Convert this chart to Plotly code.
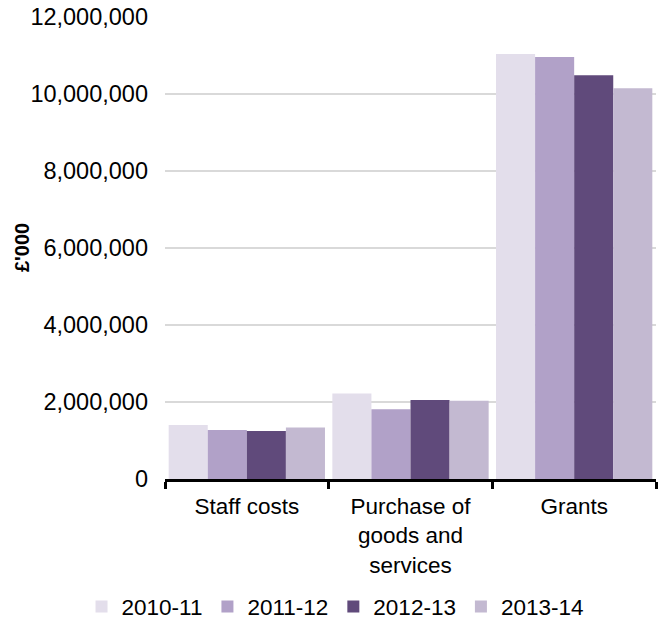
import plotly.graph_objects as go

categories = ["Staff costs", "Purchase of<br>goods and<br>services", "Grants"]
years = ["2010-11", "2011-12", "2012-13", "2013-14"]
v_2010_11 = [1400000, 2220000, 11040000]
v_2011_12 = [1270000, 1810000, 10960000]
v_2012_13 = [1250000, 2050000, 10490000]
v_2013_14 = [1340000, 2030000, 10150000]
series = [v_2010_11, v_2011_12, v_2012_13, v_2013_14]
colors = ["#E3DEEB", "#B1A1C8", "#604A7B", "#C3B9D1"]
y_ticks = [0, 2000000, 4000000, 6000000, 8000000, 10000000, 12000000]

FONT = "Liberation Sans, Arial, sans-serif"

fig = go.Figure()
for name, vals, col in zip(years, series, colors):
    fig.add_trace(go.Bar(x=categories, y=vals, name=name, marker=dict(color=col, line=dict(width=0))))

fig.update_layout(
    width=664, height=628,
    margin=dict(l=165, r=8, t=17, b=149, autoexpand=False),
    paper_bgcolor="white", plot_bgcolor="white",
    barmode="group", bargap=0.045, bargroupgap=0,
    font=dict(family=FONT, size=23, color="#000000"),
    showlegend=True,
    legend=dict(orientation="h", x=-0.17, xanchor="left", y=-0.277, yanchor="middle",
                font=dict(size=22.5), itemwidth=30, traceorder="normal",
                bgcolor="rgba(0,0,0,0)"),
    xaxis=dict(showline=True, linecolor="black", linewidth=3, ticks="outside",
               tickson="boundaries", ticklen=7, tickwidth=3, tickcolor="black",
               showgrid=False, tickfont=dict(size=22.5), ticklabelstandoff=5,
               automargin=False),
    yaxis=dict(range=[0, 12000000], tickvals=y_ticks, tickformat=",", showgrid=True,
               gridcolor="#D9D9D9", gridwidth=1.5, zeroline=False, showline=False,
               ticks="", ticklabelstandoff=16, tickfont=dict(size=23.5), automargin=False),
    annotations=[dict(text="<b>£'000</b>", textangle=-90, xref="paper", yref="paper",
                      x=-0.291, y=0.5, xanchor="center", yanchor="middle", showarrow=False,
                      font=dict(size=20))],
)

fig.write_html("out.html")
